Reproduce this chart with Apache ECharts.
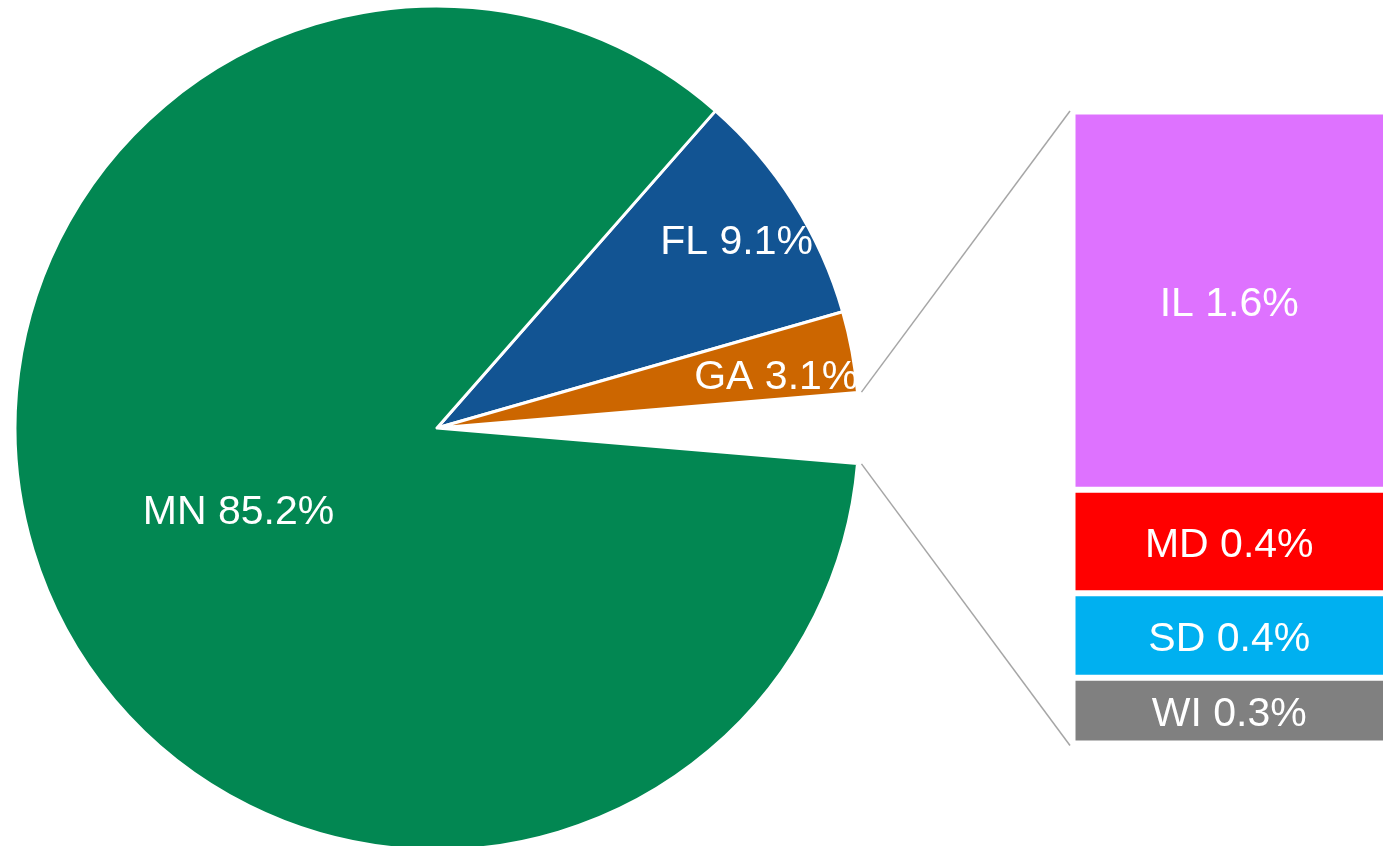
<!DOCTYPE html>
<html>
<head>
<meta charset="utf-8">
<script src="https://cdn.jsdelivr.net/npm/echarts@6/dist/echarts.min.js"></script>
<style>
html,body{margin:0;padding:0;background:#fff;}
#chart{width:1386px;height:846px;}
</style>
</head>
<body>
<div id="chart"></div>
<script>
// ---- data ----
const pieNames = ['FL', 'GA', 'MN'];
const pieValues = [9.1, 3.1, 85.2];
const pieColors = ['#125493', '#CC6600', '#028752'];
const barNames = ['IL', 'MD', 'SD', 'WI'];
const barValues = [1.61, 0.44, 0.36, 0.28];
const barColors = ['#DE72FF', '#FF0000', '#00B0F0', '#808080'];

// ---- layout ----
const cx = 437, cy = 428, R = 422;
const gLeft = 1072.5, gTop = 111.5, gWidth = 315, gHeight = 632;
const FONT = "'Liberation Sans', Arial, sans-serif";
const FS = 41;
// label nudges: [right-padding/left-padding horizontal shift, downward shift]
const labelNudge = { FL: [4, 2], GA: [-5, 13], MN: [0, 5], BAR: [0, 4] };

function richLabel(dx, dy) {
  return {
    show: true,
    padding: [0, dx < 0 ? -2 * dx : 0, 0, dx > 0 ? 2 * dx : 0],
    rich: {
      s: { lineHeight: Math.max(1, 2 * dy), fontSize: 1 },
      t: { color: '#fff', fontSize: FS, fontFamily: FONT, lineHeight: 48 }
    }
  };
}
const fmtWith = (txt) => '{s| }\n{t|' + txt + '}';

const otherValue = barValues.reduce((a, b) => a + b, 0);
const total = pieValues.reduce((a, b) => a + b, 0) + otherValue;
const beforeOther = pieValues[0] + pieValues[1];
const startAngle = (beforeOther + otherValue / 2) / total * 360;

const pieData = [
  { name: pieNames[0], value: pieValues[0], itemStyle: { color: pieColors[0] } },
  { name: pieNames[1], value: pieValues[1], itemStyle: { color: pieColors[1] } },
  { name: 'Other', value: otherValue, itemStyle: { color: 'rgba(0,0,0,0)', borderWidth: 0 }, label: { show: false } },
  { name: pieNames[2], value: pieValues[2], itemStyle: { color: pieColors[2] } }
];
const isOuter = n => n === 'FL' || n === 'GA';
const overlayData = pieData.map(d => ({
  name: d.name, value: d.value,
  itemStyle: { color: 'rgba(0,0,0,0)', borderWidth: 0 },
  label: isOuter(d.name) ? richLabel(labelNudge[d.name][0], labelNudge[d.name][1]) : { show: false }
}));
const mainData = pieData.map(d => {
  const o = Object.assign({}, d);
  if (isOuter(d.name)) o.label = { show: false };
  else if (d.name === 'MN') o.label = richLabel(labelNudge.MN[0], labelNudge.MN[1]);
  return o;
});

const labelFmt = p => fmtWith(p.name + ' ' + p.value.toFixed(1) + '%');

const barSeries = barNames.map((n, i) => ({
  type: 'bar', name: n, stack: 'other', barWidth: '100%',
  data: [barValues[i]],
  itemStyle: { color: barColors[i], borderColor: '#fff', borderWidth: 3 },
  label: Object.assign(richLabel(labelNudge.BAR[0], labelNudge.BAR[1]), {
    position: 'inside',
    formatter: p => fmtWith(n + ' ' + p.value.toFixed(1) + '%')
  }),
  silent: true
}));

// connector lines
const aUp = (startAngle - beforeOther / total * 360) * Math.PI / 180;
const aDn = (startAngle - (beforeOther + otherValue) / total * 360) * Math.PI / 180;
const rl = R + 4;
const lineStyle = { stroke: '#A6A6A6', lineWidth: 1.5 };

const option = {
  animation: false,
  backgroundColor: '#fff',
  grid: { left: gLeft, top: gTop, width: gWidth, height: gHeight, containLabel: false },
  xAxis: { type: 'category', data: ['Other'], show: false },
  yAxis: { type: 'value', min: 0, max: otherValue, inverse: true, show: false },
  series: [
    {
      type: 'pie', center: [cx, cy], radius: [0, R], startAngle: startAngle, clockwise: true,
      avoidLabelOverlap: false, silent: true,
      itemStyle: { borderColor: '#fff', borderWidth: 3 },
      label: { show: true, position: 'inside', formatter: labelFmt },
      labelLine: { show: false },
      data: mainData
    },
    {
      type: 'pie', center: [cx, cy], radius: [272, R], startAngle: startAngle, clockwise: true,
      avoidLabelOverlap: false, silent: true, z: 5,
      label: { show: true, position: 'inside', formatter: labelFmt },
      labelLine: { show: false },
      data: overlayData
    }
  ].concat(barSeries),
  graphic: [
    { type: 'line', silent: true, shape: {
        x1: cx + rl * Math.cos(aUp), y1: cy - rl * Math.sin(aUp),
        x2: gLeft - 2.5, y2: gTop - 0.5 }, style: lineStyle },
    { type: 'line', silent: true, shape: {
        x1: cx + rl * Math.cos(aDn), y1: cy - rl * Math.sin(aDn),
        x2: gLeft - 2.5, y2: gTop + gHeight + 2 }, style: lineStyle }
  ]
};

const chart = echarts.init(document.getElementById('chart'), null, { renderer: 'canvas' });
chart.setOption(option);
</script>
</body>
</html>
